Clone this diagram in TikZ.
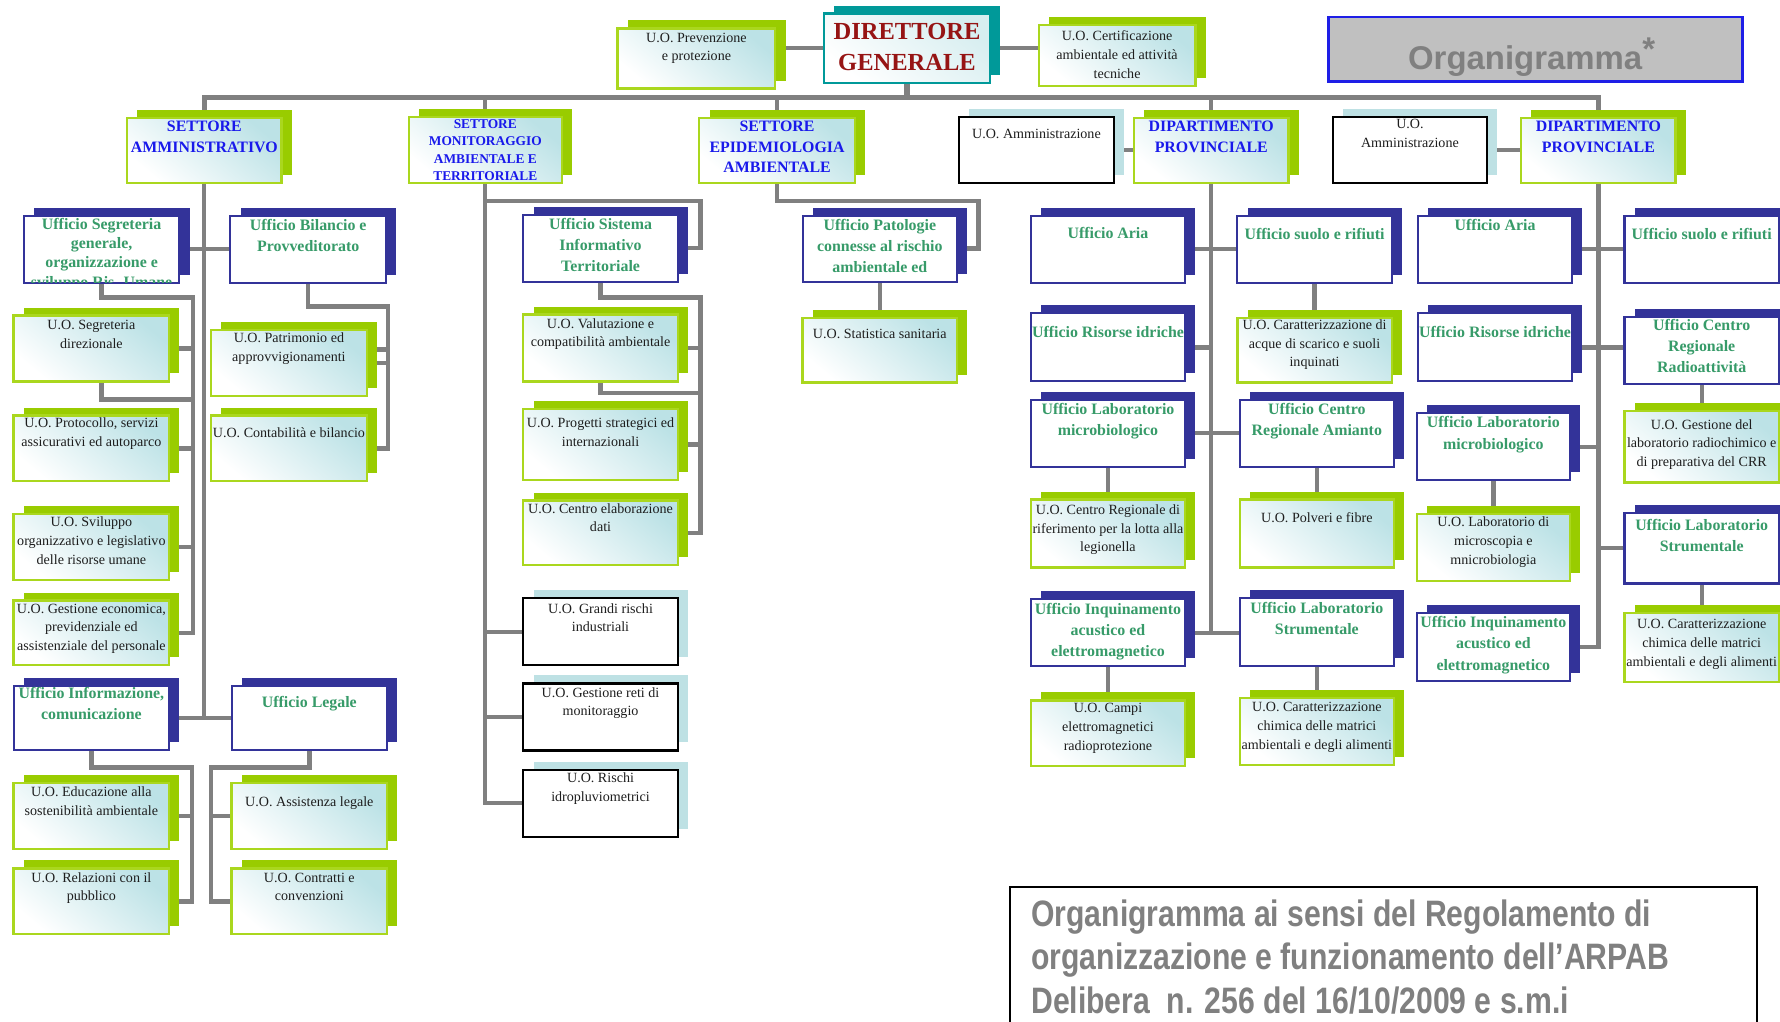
\documentclass[tikz,border=0pt]{standalone}
\usepackage{fontspec}
\setmainfont{Liberation Serif}
\newfontfamily\sansbold{Liberation Sans}
\newfontfamily\narrowfont[FakeStretch=0.82]{Liberation Sans}
\usetikzlibrary{shadows,calc}
\definecolor{gsh}{RGB}{153,204,0}
\definecolor{gbd}{RGB}{170,215,30}
\definecolor{nsh}{RGB}{51,51,153}
\definecolor{lbsh}{RGB}{190,225,228}
\definecolor{tealc}{RGB}{0,153,153}
\definecolor{cyfill}{RGB}{188,226,230}
\definecolor{conncol}{RGB}{128,128,128}
\definecolor{htxtc}{RGB}{55,155,105}
\definecolor{btxtc}{RGB}{25,25,235}
\definecolor{dred}{RGB}{150,20,20}
\definecolor{orgblue}{RGB}{30,30,230}
\definecolor{orggray}{RGB}{192,192,192}
\definecolor{txtgray}{RGB}{128,128,128}
\definecolor{stxtc}{RGB}{30,30,30}
\pgfdeclarelayer{bg}
\pgfsetlayers{bg,main}
\tikzset{
  basebox/.style={rectangle, inner sep=0pt, outer sep=0pt},
  gbox/.style={basebox, draw=gbd, line width=1pt, top color=cyfill, bottom color=white, shading angle=-40,
    general shadow={fill=gsh, shadow xshift=4.5pt, shadow yshift=3.5pt}},
  nbox/.style={basebox, draw=nsh, line width=0.9pt, fill=white,
    general shadow={fill=nsh, shadow xshift=4.5pt, shadow yshift=3.5pt}},
  kbox/.style={basebox, draw=black, line width=1pt, fill=white,
    general shadow={fill=lbsh, shadow xshift=4.5pt, shadow yshift=3.5pt}},
  tbox/.style={basebox, draw=tealc, line width=1pt, top color=cyfill!60, bottom color=white, shading angle=-40,
    general shadow={fill=tealc, shadow xshift=4.5pt, shadow yshift=3.5pt}},
  txtbase/.style={anchor=base, inner sep=0pt},
  stx/.style={txtbase, text=stxtc, font=\fontsize{6.2}{8.3}\selectfont},
  htx/.style={txtbase, text=htxtc, font=\bfseries\fontsize{7}{9.3}\selectfont},
  btx/.style={txtbase, text=btxtc, font=\bfseries\fontsize{7}{9}\selectfont},
  mtx/.style={txtbase, text=btxtc, font=\bfseries\fontsize{5.9}{7.65}\selectfont},
  dtx/.style={txtbase, text=dred, font=\bfseries\fontsize{10.8}{13.5}\selectfont},
  cn/.style={draw=conncol, line width=1.9pt},
  busline/.style={draw=conncol, line width=2.5pt},
}
\newcommand\ctrlines[1]{\begin{tabular}[t]{@{}c@{}}#1\end{tabular}}
\newcommand\orgnode[9]{%
  \node[#1, minimum width={(#6-#4)*0.5pt}, minimum height={(#7-#5)*0.5pt}] (#3) at ({(#4+#6)/2},{(#5+#7)/2}) {};
  \node[#2] (#3-t) at ({(#4+#6)/2},#8) {\ctrlines{#9}};
}
\begin{document}
\begin{tikzpicture}[x=0.5pt,y=-0.5pt]
\useasboundingbox (0,0) rectangle (1568,900);

% top
\orgnode{gbox}{stx}{prev}{544}{25}{683}{78}{37}{U.O. Prevenzione\\e protezione}
\orgnode{tbox}{dtx}{dg}{726}{12}{872}{73}{35}{DIRETTORE\\GENERALE}
\orgnode{gbox}{stx}{cert}{915}{22}{1053}{76}{36}{U.O. Certificazione\\ambientale ed attività\\tecniche}

\node[basebox, draw=orgblue, line width=1.2pt, fill=orggray, minimum width=182.5pt, minimum height=28.5pt] (orgbox) at (1352.5,43.5) {};
\node[anchor=base west, inner sep=0pt, text=txtgray, font=\sansbold\bfseries\fontsize{14.5}{17}\selectfont] (orgtxt) at (1240,61) {Organigramma\raisebox{4pt}{*}};

% settori
\orgnode{gbox}{btx}{samm}{112}{104}{248}{161}{116}{SETTORE\\AMMINISTRATIVO}
\orgnode{gbox}{mtx}{smon}{360}{103}{495}{161}{113}{SETTORE\\MONITORAGGIO\\AMBIENTALE E\\TERRITORIALE}
\orgnode{gbox}{btx}{sepi}{616}{104}{753}{161}{116}{SETTORE\\EPIDEMIOLOGIA\\AMBIENTALE}
\orgnode{kbox}{stx}{amm1}{845}{103}{981}{161}{122}{U.O. Amministrazione}
\orgnode{gbox}{btx}{dip1}{999}{104}{1135}{161}{116}{DIPARTIMENTO\\PROVINCIALE}
\orgnode{kbox}{stx}{amm2}{1174}{103}{1310}{161}{113}{U.O.\\Amministrazione}
\orgnode{gbox}{btx}{dip2}{1340}{104}{1476}{161}{116}{DIPARTIMENTO\\PROVINCIALE}

% settore amministrativo
\node[nbox, minimum width=68.5pt, minimum height=29.5pt] (segr) at (89.5,219.5) {};
\begin{scope}
  \clip (segr.south west) rectangle (segr.north east);
  \node[htx, font=\bfseries\fontsize{7}{8.5}\selectfont] (segr-t) at (89.5,202) {\ctrlines{Ufficio Segreteria\\generale,\\organizzazione e\\sviluppo Ris. Umane}};
\end{scope}
\orgnode{nbox}{htx}{bil}{203}{190}{340}{249}{203}{Ufficio Bilancio e\\Provveditorato}
\orgnode{gbox}{stx}{segdir}{12}{278}{149}{336}{290}{U.O. Segreteria\\direzionale}
\orgnode{gbox}{stx}{patr}{186}{291}{323}{349}{302}{U.O. Patrimonio ed\\approvvigionamenti}
\orgnode{gbox}{stx}{prot}{12}{366}{149}{424}{377}{U.O. Protocollo, servizi\\assicurativi ed autoparco}
\orgnode{gbox}{stx}{cont}{186}{366}{323}{424}{385}{U.O. Contabilità e bilancio}
\orgnode{gbox}{stx}{svil}{12}{453}{149}{511}{464}{U.O. Sviluppo\\organizzativo e legislativo\\delle risorse umane}
\orgnode{gbox}{stx}{gest}{12}{529}{149}{586}{540}{U.O. Gestione economica,\\previdenziale ed\\assistenziale del personale}
\orgnode{nbox}{htx}{info}{12}{604}{149}{661}{615}{Ufficio Informazione,\\comunicazione}
\orgnode{nbox}{htx}{leg}{204}{604}{341}{661}{623}{Ufficio Legale}
\orgnode{gbox}{stx}{edu}{12}{690}{149}{748}{702}{U.O. Educazione alla\\sostenibilità ambientale}
\orgnode{gbox}{stx}{rel}{12}{765}{149}{823}{777}{U.O. Relazioni con il\\pubblico}
\orgnode{gbox}{stx}{ass}{204}{690}{341}{748}{710}{U.O. Assistenza legale}
\orgnode{gbox}{stx}{contr}{204}{765}{341}{823}{777}{U.O. Contratti e\\convenzioni}

% settore monitoraggio
\orgnode{nbox}{htx}{sit}{461}{189}{597}{248}{202}{Ufficio Sistema\\Informativo\\Territoriale}
\orgnode{gbox}{stx}{val}{461}{277}{597}{336}{289}{U.O. Valutazione e\\compatibilità ambientale}
\orgnode{gbox}{stx}{prog}{461}{360}{597}{423}{377}{U.O. Progetti strategici ed\\internazionali}
\orgnode{gbox}{stx}{ced}{461}{441}{597}{498}{452}{U.O. Centro elaborazione\\dati}
\orgnode{kbox}{stx}{grandi}{461}{527}{597}{586}{540}{U.O. Grandi rischi\\industriali}
\orgnode{kbox}{stx}{reti}{461}{602}{597}{661}{614}{U.O. Gestione reti di\\monitoraggio}
\orgnode{kbox}{stx}{idro}{461}{678}{597}{737}{689}{U.O. Rischi\\idropluviometrici}

% settore epidemiologia
\orgnode{nbox}{htx}{pat}{707}{190}{843}{248}{203}{Ufficio Patologie\\connesse al rischio\\ambientale ed}
\orgnode{gbox}{stx}{stat}{707}{280}{843}{337}{298}{U.O. Statistica sanitaria}

% dipartimento 1
\orgnode{nbox}{htx}{aria1}{908}{190}{1044}{249}{210}{Ufficio Aria}
\orgnode{nbox}{htx}{suolo1}{1090}{190}{1226}{249}{211}{Ufficio suolo e rifiuti}
\orgnode{nbox}{htx}{ris1}{908}{276}{1044}{336}{297}{Ufficio Risorse idriche}
\orgnode{gbox}{stx}{acque1}{1090}{280}{1226}{337}{290}{U.O. Caratterizzazione di\\acque di scarico e suoli\\inquinati}
\orgnode{nbox}{htx}{micro1}{908}{352}{1044}{411}{365}{Ufficio Laboratorio\\microbiologico}
\orgnode{nbox}{htx}{amianto}{1092}{352}{1228}{411}{365}{Ufficio Centro\\Regionale Amianto}
\orgnode{gbox}{stx}{legion}{908}{440}{1044}{500}{453}{U.O. Centro Regionale di\\riferimento per la lotta alla\\legionella}
\orgnode{gbox}{stx}{polv}{1092}{440}{1228}{500}{460}{U.O. Polveri e fibre}
\orgnode{nbox}{htx}{inq1}{908}{528}{1044}{587}{541}{Ufficio Inquinamento\\acustico ed\\elettromagnetico}
\orgnode{nbox}{htx}{strum1}{1092}{527}{1228}{587}{540}{Ufficio Laboratorio\\Strumentale}
\orgnode{gbox}{stx}{campi}{908}{617}{1044}{675}{628}{U.O. Campi\\elettromagnetici\\radioprotezione}
\orgnode{gbox}{stx}{chim1}{1092}{615}{1228}{674}{627}{U.O. Caratterizzazione\\chimica delle matrici\\ambientali e degli alimenti}

% dipartimento 2
\orgnode{nbox}{htx}{aria2}{1249}{190}{1385}{249}{203}{Ufficio Aria}
\orgnode{nbox}{htx}{suolo2}{1431}{190}{1567}{249}{211}{Ufficio suolo e rifiuti}
\orgnode{nbox}{htx}{ris2}{1249}{276}{1385}{336}{297}{Ufficio Risorse idriche}
\orgnode{nbox}{htx}{radio}{1431}{279}{1567}{338}{291}{Ufficio Centro\\Regionale\\Radioattività}
\orgnode{gbox}{stx}{crr}{1431}{362}{1567}{425}{378}{U.O. Gestione del\\laboratorio radiochimico e\\di preparativa del CRR}
\orgnode{nbox}{htx}{micro2}{1248}{364}{1383}{423}{377}{Ufficio Laboratorio\\microbiologico}
\orgnode{gbox}{stx}{micros}{1248}{453}{1383}{512}{464}{U.O. Laboratorio di\\microscopia e\\mnicrobiologia}
\orgnode{nbox}{htx}{strum2}{1431}{452}{1567}{514}{467}{Ufficio Laboratorio\\Strumentale}
\orgnode{gbox}{stx}{chim2}{1431}{540}{1567}{601}{554}{U.O. Caratterizzazione\\chimica delle matrici\\ambientali e degli alimenti}
\orgnode{nbox}{htx}{inq2}{1248}{540}{1383}{600}{553}{Ufficio Inquinamento\\acustico ed\\elettromagnetico}

% note box
\node[basebox, draw=black, line width=0.9pt, fill=white, minimum width=329pt, minimum height=62pt] (notebox) at (1219,843) {};
\node[anchor=base west, inner sep=0pt, text=txtgray, font=\narrowfont\bfseries\fontsize{16.2}{19.1}\selectfont] (notetxt) at (908,816) {\begin{tabular}[t]{@{}l@{}}Organigramma ai sensi del Regolamento di\\organizzazione e funzionamento dell’ARPAB\\Delibera\ \ n. 256 del 16/10/2009 e s.m.i\end{tabular}};

% connectors
\begin{pgfonlayer}{bg}
\coordinate (bus) at (799,86);
\draw[cn] (dg.west) -- (dg.west -| prev.east);
\draw[cn] (dg.east) -- (dg.east -| cert.west);
\draw[busline] (dg.south) -- (bus);
\draw[busline] (samm.north) |- (bus) -| (dip2.north);
\draw[cn] (smon.north) -- (smon.north |- bus);
\draw[cn] (sepi.north) -- (sepi.north |- bus);
\draw[cn] (dip1.north) -- (dip1.north |- bus);
\draw[cn] (amm1.east) -- (amm1.east -| dip1.west);
\draw[cn] (amm2.east) -- (amm2.east -| dip2.west);
% settore amministrativo
\draw[cn] (samm.south) -- (samm.south |- info.east);
\draw[cn] (segr.east) -- (bil.west);
\draw[cn] (info.east) -- (leg.west);
\coordinate (sgb) at (170,262);
\draw[cn] (segr.south) |- (sgb) |- (gest.east);
\draw[cn] (segdir.east) -- (segdir.east -| sgb);
\draw[cn] (prot.east) -- (prot.east -| sgb);
\draw[cn] (svil.east) -- (svil.east -| sgb);
\draw[cn] (segr.south |- segdir.south) -- ++(0,16) -| (sgb);
\coordinate (blb) at (342,270);
\draw[cn] (bil.south) |- (blb) |- (cont.east);
\draw[cn] ([yshift=6pt]patr.east) -- ([yshift=6pt]patr.east -| blb);
\draw[cn] (patr.east) -- (patr.east -| blb);
\coordinate (ifb) at (169,676);
\draw[cn] (info.south) |- (ifb) |- (rel.east);
\draw[cn] (edu.east) -- (edu.east -| ifb);
\coordinate (lgb) at (186,676);
\draw[cn] (leg.south) |- (lgb) |- (contr.west);
\draw[cn] (ass.west) -- (ass.west -| lgb);
% settore monitoraggio
\draw[cn] (smon.south) |- (idro.west);
\draw[cn] (grandi.west) -- (grandi.west -| smon.south);
\draw[cn] (reti.west) -- (reti.west -| smon.south);
\coordinate (smb) at (617,177);
\draw[cn] (smon.south |- smb) -- (smb) |- (sit.east);
\coordinate (sib) at (617,262);
\draw[cn] (sit.south) |- (sib) |- (ced.east);
\draw[cn] (val.east) -- (val.east -| sib);
\draw[cn] (prog.east) -- (prog.east -| sib);
\draw[cn] (val.south) -- ++(0,10) -| (sib);
% settore epidemiologia
\coordinate (epb) at (862,177);
\draw[cn] (sepi.south) |- (epb) |- (pat.east);
\draw[cn] (pat.south) -- (stat.north);
% dipartimento 1
\draw[cn] (dip1.south) -- (dip1.south |- inq1.east);
\draw[cn] (aria1.east) -- (suolo1.west);
\draw[cn] (ris1.east) -- (ris1.east -| dip1.south);
\draw[cn] (micro1.east) -- (amianto.west);
\draw[cn] (inq1.east) -- (inq1.east -| strum1.west);
\draw[cn] (suolo1.south) -- (acque1.north);
\draw[cn] (micro1.south) -- (legion.north);
\draw[cn] (amianto.south) -- (polv.north);
\draw[cn] (inq1.south) -- (campi.north);
\draw[cn] (strum1.south) -- (chim1.north);
% dipartimento 2
\draw[cn] (dip2.south) |- (inq2.east);
\draw[cn] (aria2.east) -- (suolo2.west);
\draw[cn] (ris2.east) -- (ris2.east -| radio.west);
\draw[cn] (micro2.east) -- (micro2.east -| dip2.south);
\draw[cn] (strum2.west) -- (strum2.west -| dip2.south);
\draw[cn] (radio.south) -- (crr.north);
\draw[cn] (micro2.south) -- (micros.north);
\draw[cn] (strum2.south) -- (chim2.north);
\end{pgfonlayer}
\end{tikzpicture}
\end{document}
